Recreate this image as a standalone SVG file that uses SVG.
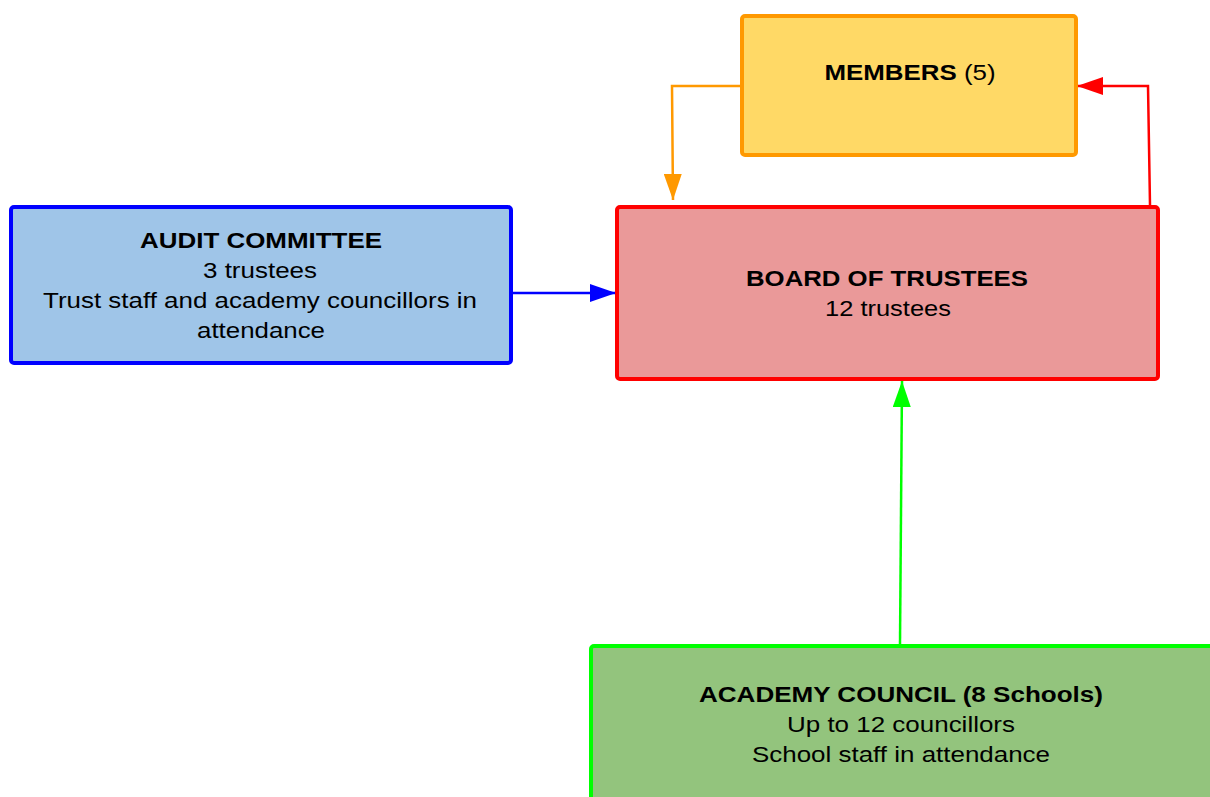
<svg xmlns="http://www.w3.org/2000/svg" width="1210" height="797" viewBox="0 0 1210 797">
<style>
.box{stroke-width:4;}
text{font-family:"Liberation Sans",Arial,sans-serif;font-size:22px;fill:#000;text-anchor:middle;}
.b{font-weight:bold;}
.conn{fill:none;stroke-width:2.5;}
</style>
<defs>
<marker id="ah-orange" viewBox="0 0 26 18" refX="26" refY="9" markerWidth="26" markerHeight="18" markerUnits="userSpaceOnUse" orient="auto"><path d="M0,0 L26,9 L0,18 z" fill="#ff9900"/></marker>
<marker id="ah-red" viewBox="0 0 26 18" refX="26" refY="9" markerWidth="26" markerHeight="18" markerUnits="userSpaceOnUse" orient="auto"><path d="M0,0 L26,9 L0,18 z" fill="#ff0000"/></marker>
<marker id="ah-blue" viewBox="0 0 26 18" refX="26" refY="9" markerWidth="26" markerHeight="18" markerUnits="userSpaceOnUse" orient="auto"><path d="M0,0 L26,9 L0,18 z" fill="#0000ff"/></marker>
<marker id="ah-green" viewBox="0 0 26 18" refX="26" refY="9" markerWidth="26" markerHeight="18" markerUnits="userSpaceOnUse" orient="auto"><path d="M0,0 L26,9 L0,18 z" fill="#00ff00"/></marker>
</defs>
<rect width="1210" height="797" fill="#ffffff"/>
<g id="connectors">
<path class="conn" d="M742,86 L672,86 L673,200" stroke="#ff9900" marker-end="url(#ah-orange)"/>
<path class="conn" d="M1150,205 L1148,86 L1077,86" stroke="#ff0000" marker-end="url(#ah-red)"/>
<path class="conn" d="M512,293 L616,293" stroke="#0000ff" marker-end="url(#ah-blue)"/>
<path class="conn" d="M900,644 L902,381" stroke="#00ff00" marker-end="url(#ah-green)"/>
</g>
<g id="members">
<rect class="box" x="742" y="16" width="334" height="139" rx="3" fill="#ffd966" stroke="#ff9900"/>
<text x="910" y="80" textLength="171" lengthAdjust="spacingAndGlyphs"><tspan class="b">MEMBERS</tspan> (5)</text>
</g>
<g id="board">
<rect class="box" x="617" y="207" width="541" height="172" rx="3" fill="#ea9999" stroke="#ff0000"/>
<text class="b" x="887" y="286" textLength="282" lengthAdjust="spacingAndGlyphs">BOARD OF TRUSTEES</text>
<text x="888" y="316" textLength="126" lengthAdjust="spacingAndGlyphs">12 trustees</text>
</g>
<g id="audit">
<rect class="box" x="11" y="207" width="500" height="156" rx="3" fill="#9fc5e8" stroke="#0000ff"/>
<text class="b" x="261" y="248" textLength="242" lengthAdjust="spacingAndGlyphs">AUDIT COMMITTEE</text>
<text x="260" y="278" textLength="114" lengthAdjust="spacingAndGlyphs">3 trustees</text>
<text x="260" y="308" textLength="434" lengthAdjust="spacingAndGlyphs">Trust staff and academy councillors in</text>
<text x="261" y="338" textLength="128" lengthAdjust="spacingAndGlyphs">attendance</text>
</g>
<g id="academy">
<rect class="box" x="591" y="646" width="640" height="180" rx="3" fill="#93c47d" stroke="#00ff00"/>
<text class="b" x="901" y="702" textLength="404" lengthAdjust="spacingAndGlyphs">ACADEMY COUNCIL (8 Schools)</text>
<text x="901" y="732" textLength="228" lengthAdjust="spacingAndGlyphs">Up to 12 councillors</text>
<text x="901" y="762" textLength="298" lengthAdjust="spacingAndGlyphs">School staff in attendance</text>
</g>
</svg>
